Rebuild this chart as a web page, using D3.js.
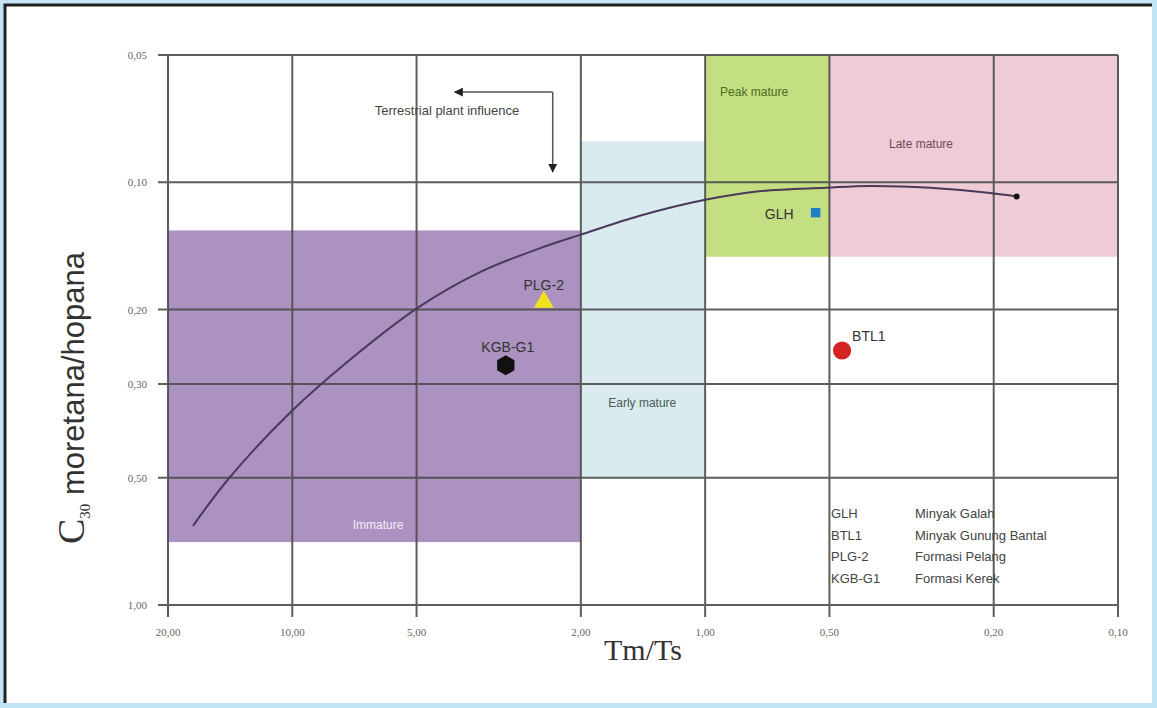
<!DOCTYPE html>
<html>
<head>
<meta charset="utf-8">
<script src="https://cdn.jsdelivr.net/npm/d3@7"></script>
<style>
  body { margin: 0; background: #fff; }
</style>
</head>
<body>
<div id="container"></div>
<script>
// axis ticks (log scales)
const xTicks = [20, 10, 5, 2, 1, 0.5, 0.2, 0.1];
const yTicks = [0.05, 0.1, 0.2, 0.3, 0.5, 1];

// maturity zones: [Tm/Ts from, to], [C30 ratio from, to]
const zoneNames = ["Immature", "Early mature", "Peak mature", "Late mature"];
const zoneX = [[20, 2], [2, 1], [1, 0.5], [0.5, 0.1]];
const zoneY = [[0.13, 0.71], [0.08, 0.5], [0.05, 0.15], [0.05, 0.15]];
const zoneColors = ["#ab92c0", "#d9ebee", "#c4df82", "#efcbd7"];

// maturation trend curve
const curveX = [17.4, 14.2, 10.1, 7.25, 4.96, 3.5, 2.5, 2.0, 1.44, 1.0, 0.74, 0.51, 0.40, 0.285, 0.204, 0.176];
const curveY = [0.65, 0.50, 0.35, 0.263, 0.198, 0.163, 0.143, 0.133, 0.120, 0.110, 0.105, 0.103, 0.102, 0.103, 0.106, 0.108];

// samples
const samples = ["GLH", "BTL1", "PLG-2", "KGB-G1"];
const sampleX = [0.54, 0.466, 2.46, 3.04];
const sampleY = [0.118, 0.25, 0.192, 0.271];
const sampleNames = ["Minyak Galah", "Minyak Gunung Bantal", "Formasi Pelang", "Formasi Kerek"];

function fmt(v) {
    return v.toFixed(2).replace(".", ",");
}

function draw() {
    const width = 1157;
    const height = 708;
    const left = 168, right = 1118, top = 55, bottom = 605;

    const svg = d3.select('#container')
        .append('svg')
        .attr('width', width)
        .attr('height', height);

    // frame
    svg.append("rect").attr("width", width).attr("height", height).attr("fill", "#c4e5f5");
    svg.append("rect").attr("x", 5).attr("y", 5).attr("width", width - 10).attr("height", height - 10).attr("fill", "#fff");
    svg.append("path").attr("d", `M5,${height - 5}V5H${width - 5}`)
        .attr("fill", "none").attr("stroke", "#222").attr("stroke-width", 3);

    const x = d3.scaleLog().domain([20, 0.1]).range([left, right]);
    const y = d3.scaleLog().domain([0.05, 1]).range([top, bottom]);

    // zones
    svg.selectAll(".zone")
        .data(zoneNames)
        .enter().append("rect")
        .attr("x", (d, i) => x(zoneX[i][0]))
        .attr("y", (d, i) => y(zoneY[i][0]))
        .attr("width", (d, i) => x(zoneX[i][1]) - x(zoneX[i][0]))
        .attr("height", (d, i) => y(zoneY[i][1]) - y(zoneY[i][0]))
        .attr("fill", (d, i) => zoneColors[i]);

    // grid
    const grid = svg.append("g").attr("stroke", "#4d4d4d").attr("stroke-width", 2).attr("opacity", 0.9);
    grid.selectAll(".vx")
        .data(xTicks)
        .enter().append("line")
        .attr("x1", d => x(d)).attr("x2", d => x(d))
        .attr("y1", top).attr("y2", bottom + 12);
    grid.selectAll(".hy")
        .data(yTicks)
        .enter().append("line")
        .attr("x1", left - 10).attr("x2", right)
        .attr("y1", d => y(d)).attr("y2", d => y(d));

    // tick labels
    svg.selectAll(".xl")
        .data(xTicks)
        .enter().append("text")
        .text(d => fmt(d))
        .attr("x", d => x(d))
        .attr("y", 636)
        .attr("text-anchor", "middle")
        .style("font", "11px 'Liberation Serif'")
        .style("fill", "#666");
    svg.selectAll(".yl")
        .data(yTicks)
        .enter().append("text")
        .text(d => fmt(d))
        .attr("x", 147)
        .attr("y", d => y(d) + 4)
        .attr("text-anchor", "end")
        .style("font", "11px 'Liberation Serif'")
        .style("fill", "#666");

    // zone labels
    const zoneLabelPos = [[6.2, 0.66, "middle", "#f4ecfa"], [1.42, 0.34, "middle", "#4a5a5a"],
                          [0.92, 0.0625, "start", "#4d6a1e"], [0.3, 0.083, "middle", "#6a4a55"]];
    svg.selectAll(".zl")
        .data(zoneNames)
        .enter().append("text")
        .text(d => d)
        .attr("x", (d, i) => x(zoneLabelPos[i][0]))
        .attr("y", (d, i) => y(zoneLabelPos[i][1]))
        .attr("text-anchor", (d, i) => zoneLabelPos[i][2])
        .style("font", "12px 'Liberation Sans'")
        .style("fill", (d, i) => zoneLabelPos[i][3]);

    // trend curve
    const line = d3.line()
        .x(d => x(d[0]))
        .y(d => y(d[1]))
        .curve(d3.curveCatmullRom);
    svg.append("path")
        .datum(curveX.map((v, i) => [v, curveY[i]]))
        .attr("d", line)
        .attr("fill", "none")
        .attr("stroke", "#4a3a5a")
        .attr("stroke-width", 2);
    svg.append("circle")
        .attr("cx", x(curveX[curveX.length - 1]))
        .attr("cy", y(curveY[curveY.length - 1]))
        .attr("r", 3)
        .attr("fill", "#111");

    // terrestrial plant influence arrow
    const defs = svg.append("defs");
    defs.append("marker")
        .attr("id", "arr").attr("viewBox", "0 0 10 10").attr("refX", 9).attr("refY", 5)
        .attr("markerWidth", 6).attr("markerHeight", 6).attr("orient", "auto")
        .append("path").attr("d", "M0,0L10,5L0,10z").attr("fill", "#222");
    svg.append("path")
        .attr("d", `M${x(2.34)},${y(0.0612)}H${x(4.04)}`)
        .attr("stroke", "#555").attr("stroke-width", 1.5).attr("fill", "none")
        .attr("marker-end", "url(#arr)");
    svg.append("path")
        .attr("d", `M${x(2.34)},${y(0.0612)}V${y(0.0945)}`)
        .attr("stroke", "#555").attr("stroke-width", 1.5).attr("fill", "none")
        .attr("marker-end", "url(#arr)");
    svg.append("text")
        .text("Terrestrial plant influence")
        .attr("x", x(4.22))
        .attr("y", y(0.0675) + 5)
        .attr("text-anchor", "middle")
        .style("font", "13px 'Liberation Sans'")
        .style("fill", "#444");

    // sample symbols
    const symbols = [d3.symbolSquare, d3.symbolCircle, d3.symbolTriangle, null];
    const symColors = ["#1f7fc4", "#d42222", "#f2e21e", "#111"];
    const symSizes = [90, 260, 170, 0];
    samples.forEach((s, i) => {
        const g = svg.append("g").attr("transform", `translate(${x(sampleX[i])},${y(sampleY[i])})`);
        if (symbols[i]) {
            g.append("path")
                .attr("d", d3.symbol().type(symbols[i]).size(symSizes[i])())
                .attr("fill", symColors[i]);
        } else {
            const hex = d3.range(6).map(k => {
                const a = Math.PI / 3 * k + Math.PI / 6;
                return [10 * Math.cos(a), 10 * Math.sin(a)];
            });
            g.append("path").attr("d", "M" + hex.join("L") + "Z").attr("fill", symColors[i]);
        }
    });

    // sample labels
    const labelOff = [[-22, 6, "end"], [10, -9, "start"], [0, -12, "middle"], [2, -13, "middle"]];
    svg.selectAll(".sl")
        .data(samples)
        .enter().append("text")
        .text(d => d)
        .attr("x", (d, i) => x(sampleX[i]) + labelOff[i][0])
        .attr("y", (d, i) => y(sampleY[i]) + labelOff[i][1])
        .attr("text-anchor", (d, i) => labelOff[i][2])
        .style("font", "14px 'Liberation Sans'")
        .style("fill", "#333");

    // legend
    const legend = svg.append("g").attr("transform", "translate(831, 518)");
    samples.forEach((s, i) => {
        legend.append("text").text(s).attr("x", 0).attr("y", i * 21.5)
            .style("font", "13px 'Liberation Sans'").style("fill", "#444");
        legend.append("text").text(sampleNames[i]).attr("x", 84).attr("y", i * 21.5)
            .style("font", "13px 'Liberation Sans'").style("fill", "#444");
    });

    // axis titles
    svg.append("text")
        .text("Tm/Ts")
        .attr("x", 643)
        .attr("y", 660)
        .attr("text-anchor", "middle")
        .style("font", "30px 'Liberation Serif'")
        .style("fill", "#333");

    const yt = svg.append("text")
        .attr("transform", "translate(84, 398) rotate(-90)")
        .attr("text-anchor", "middle")
        .style("fill", "#333");
    yt.append("tspan").text("C").style("font", "38px 'Liberation Serif'");
    yt.append("tspan").text("30").attr("dy", 6).style("font", "15px 'Liberation Serif'");
    yt.append("tspan").text(" moretana/hopana").attr("dy", -6).style("font", "31px 'Liberation Sans Narrow', 'Liberation Sans'");
}
draw();
</script>
</body>
</html>
